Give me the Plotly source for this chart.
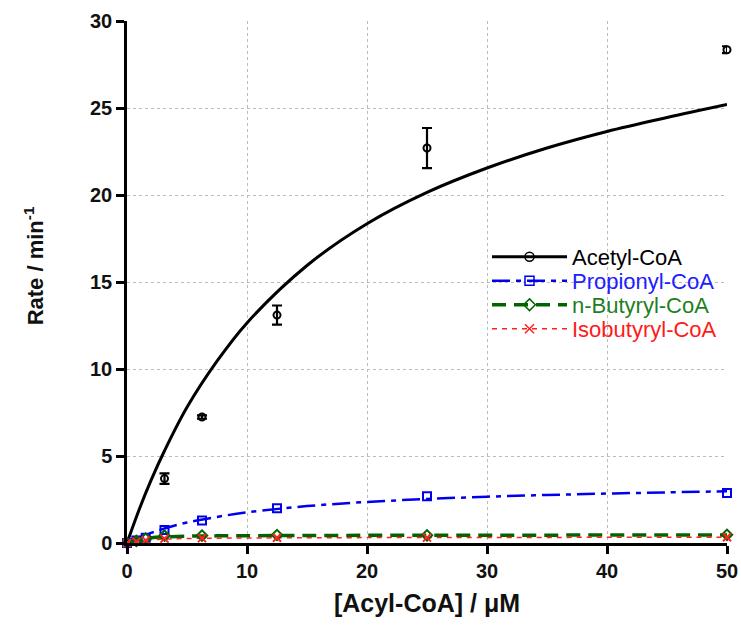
import plotly.graph_objects as go

# Substrate concentrations (µM)
conc = [0, 0.78, 1.56, 3.125, 6.25, 12.5, 25, 50]
conc_acetyl = [3.125, 6.25, 12.5, 25, 50]

# Measured rates (min^-1)
rate_acetyl = [3.7, 7.24, 13.1, 22.7, 28.35]
err_acetyl = [0.3, 0.1, 0.55, 1.15, 0.2]
rate_propionyl = [0.0, 0.15, 0.3, 0.75, 1.3, 2.0, 2.68, 2.87]
rate_butyryl = [0.0, 0.12, 0.25, 0.42, 0.43, 0.46, 0.44, 0.47]
rate_isobutyryl = [0.0, 0.08, 0.15, 0.25, 0.28, 0.3, 0.31, 0.33]

# Fitted Michaelis-Menten curves
fit_x = [0, 1, 2, 3.125, 5, 7.5, 10, 15, 20, 25, 30, 35, 40, 45, 50]
fit_acetyl = [0, 1.9, 3.6, 5.3, 7.8, 10.45, 12.65, 15.95, 18.35, 20.15, 21.55, 22.7, 23.65, 24.45, 25.2]
fit_propionyl = [0, 0.32, 0.58, 0.83, 1.18, 1.5, 1.76, 2.12, 2.36, 2.53, 2.66, 2.76, 2.84, 2.91, 2.97]
fit_butyryl = [0, 0.22, 0.3, 0.35, 0.39, 0.41, 0.42, 0.43, 0.44, 0.44, 0.45, 0.45, 0.46, 0.46, 0.46]
fit_isobutyryl = [0, 0.12, 0.18, 0.22, 0.26, 0.28, 0.29, 0.3, 0.31, 0.31, 0.32, 0.32, 0.33, 0.33, 0.33]

names = ["Acetyl-CoA", "Propionyl-CoA", "n-Butyryl-CoA", "Isobutyryl-CoA"]
colors = ["#000000", "#0000ee", "#006400", "#ff2020"]
text_colors = ["#000000", "#2020ff", "#1f7f1f", "#ff1a1a"]
dashes = ["solid", "18px,6px,5px,6px", "14px,8px", "5px,5px"]
widths = [3, 2.5, 3.5, 1.5]
symbols = ["circle-open", "square-open", "diamond-open", "x-thin-open"]

FONT = "Liberation Sans, Arial, sans-serif"

fig = go.Figure()

fits = [fit_acetyl, fit_propionyl, fit_butyryl, fit_isobutyryl]
for f, c, d, w in zip(fits, colors, dashes, widths):
    fig.add_trace(go.Scatter(x=fit_x, y=f, mode="lines", line=dict(color=c, width=w, dash=d, shape="spline"),
                             showlegend=False, hoverinfo="skip"))

fig.add_trace(go.Scatter(
    x=conc_acetyl, y=rate_acetyl, mode="markers",
    marker=dict(symbol="circle-open", size=7, color="#000", line=dict(width=2)),
    error_y=dict(type="data", array=err_acetyl, color="#000", thickness=2.2, width=5),
    showlegend=False, cliponaxis=False))

others = [rate_propionyl, rate_butyryl, rate_isobutyryl]
for vals, c, s in zip(others, colors[1:], symbols[1:]):
    fig.add_trace(go.Scatter(
        x=conc, y=vals, mode="markers",
        marker=dict(symbol=s, size=8, color=c, line=dict(width=2, color=c)),
        showlegend=False, cliponaxis=False))

# One legend per series so the rows can sit close together
legend_ids = ["legend", "legend2", "legend3", "legend4"]
legend_rows = [0.548, 0.502, 0.456, 0.410]
for n, c, tc, d, w, s, lid in zip(names, colors, text_colors, dashes, widths, symbols, legend_ids):
    fig.add_trace(go.Scatter(
        x=[None], y=[None], mode="lines+markers", legend=lid,
        name=f"<span style='color:{tc}'>{n}</span>",
        line=dict(color=c, width=w, dash=d),
        marker=dict(symbol=s, size=9, color=c, line=dict(width=1.5, color=c))))

legend_layout = {}
for lid, ly in zip(legend_ids, legend_rows):
    legend_layout[lid] = dict(x=0.6, y=ly, xanchor="left", yanchor="middle",
                              bgcolor="rgba(255,255,255,0)", font=dict(family=FONT, size=22),
                              itemwidth=75)

tick_font = dict(family=FONT, size=20, color="#111")

fig.update_layout(
    width=741, height=627,
    margin=dict(l=127, r=14, t=21, b=84),
    paper_bgcolor="white", plot_bgcolor="white",
    font=dict(family=FONT, size=20, color="#111"),
    xaxis=dict(
        range=[0, 50], tickvals=[0, 10, 20, 30, 40, 50],
        ticktext=["<b>0</b>", "<b>10</b>", "<b>20</b>", "<b>30</b>", "<b>40</b>", "<b>50</b>"],
        showline=True, linecolor="#000", linewidth=2.5,
        ticks="outside", ticklen=8, tickwidth=2.5, tickcolor="#000",
        showgrid=True, gridcolor="#bbbbbb", griddash="dot", gridwidth=1.2,
        zeroline=False, tickfont=tick_font, automargin=False,
        title=dict(text="<b>[Acyl-CoA] / μM</b>", font=dict(family=FONT, size=25, color="#111"), standoff=14)),
    yaxis=dict(
        range=[0, 30], tickvals=[0, 5, 10, 15, 20, 25, 30],
        ticktext=["<b>0</b>", "<b>5</b>", "<b>10</b>", "<b>15</b>", "<b>20</b>", "<b>25</b>", "<b>30</b>"],
        showline=True, linecolor="#000", linewidth=2.5,
        ticks="outside", ticklen=8, tickwidth=2.5, tickcolor="#000",
        showgrid=True, gridcolor="#bbbbbb", griddash="dot", gridwidth=1.2,
        zeroline=False, tickfont=tick_font, automargin=False),
    annotations=[dict(
        text="<b>Rate / min<sup>-1</sup></b>", textangle=-90,
        xref="paper", yref="paper", x=-0.155, y=0.53, xanchor="center", yanchor="middle",
        showarrow=False, font=dict(family=FONT, size=22, color="#111"))],
    **legend_layout,
)

fig.write_html("out.html")
